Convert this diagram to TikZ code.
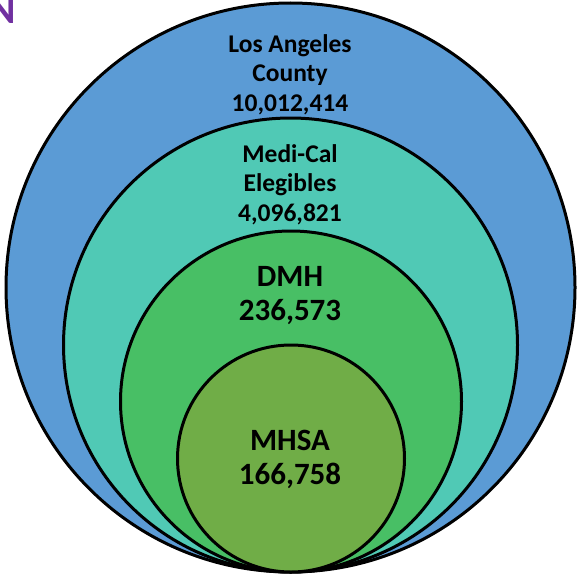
\documentclass[tikz,border=0pt]{standalone}
\usepackage{fontspec}
\setmainfont{Carlito}
\definecolor{laBlue}{RGB}{91,155,213}
\definecolor{mcTeal}{RGB}{80,201,181}
\definecolor{dmhGreen}{RGB}{72,191,101}
\definecolor{mhsaGreen}{RGB}{112,173,71}
\definecolor{titlePurple}{RGB}{112,48,160}
\begin{document}
\begin{tikzpicture}[x=1pt,y=-1pt,
  ring/.style={draw=black,line width=3pt},
  lbl/.style={anchor=base,align=center,font=\bfseries\fontsize{25.5}{29.5}\selectfont,inner sep=0pt},
  biglbl/.style={anchor=base,align=center,font=\bfseries\fontsize{31}{34}\selectfont,inner sep=0pt}]
\useasboundingbox (0,0) rectangle (576,578);
\node[anchor=base east,inner sep=0pt,text=titlePurple,font=\bfseries\fontsize{40}{44}\selectfont] (title) at (16.5,24) {N};
\path[ring,fill=laBlue] (290.5,287.5) circle[radius=284.5] coordinate (la);
\path[ring,fill=mcTeal] (290.5,345) circle[radius=227] coordinate (mc);
\path[ring,fill=dmhGreen] (291,401.5) circle[radius=170.5] coordinate (dmh);
\path[ring,fill=mhsaGreen] (291,458.5) circle[radius=113.5] coordinate (mhsa);
\node[lbl] (t1) at (290,111) {Los Angeles\\County\\10,012,414};
\node[lbl] (t2) at (290,221) {Medi-Cal\\Elegibles\\4,096,821};
\node[biglbl] (t3) at (290,320) {DMH\\236,573};
\node[biglbl] (t4) at (290,484) {MHSA\\166,758};
\end{tikzpicture}
\end{document}
